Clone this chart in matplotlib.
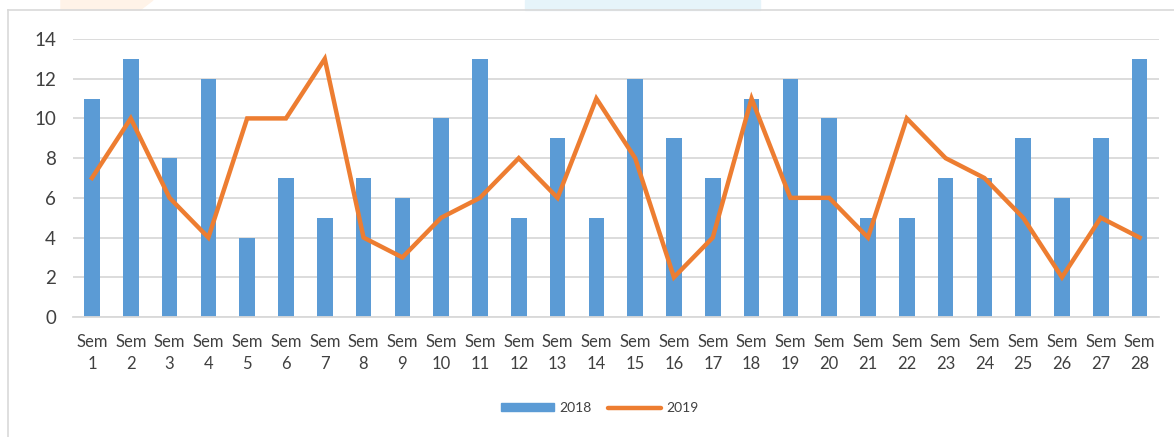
import numpy as np
import matplotlib
matplotlib.use("Agg")
import matplotlib.pyplot as plt
from matplotlib.patches import Rectangle, Polygon
from matplotlib.lines import Line2D

plt.rcParams['font.family'] = ['Lato', 'DejaVu Sans']

# valores
semanas = ['Sem\n%d' % i for i in range(1, 29)]
v2018 = [11, 13, 8, 12, 4, 7, 5, 7, 6, 10, 13, 5, 9, 5, 12, 9, 7, 11, 12, 10, 5, 5, 7, 7, 9, 6, 9, 13]
v2019 = [7, 10, 6, 4, 10, 10, 13, 4, 3, 5, 6, 8, 6, 11, 8, 2, 4, 11, 6, 6, 4, 10, 8, 7, 5, 2, 5, 4]

azul = '#5B9BD5'
naranja = '#ED7D31'

fig = plt.figure(figsize=(11.74, 4.37), dpi=100)

# decoracion de fondo y marco
fig.patches.append(Polygon([[61/1174, 1], [153/1174, 1], [140/1174, 1-10/437], [61/1174, 1-10/437]],
                           closed=True, transform=fig.transFigure, color='#FFF3E8', zorder=0))
fig.patches.append(Rectangle((525/1174, 1-10/437), 235/1174, 10/437, transform=fig.transFigure,
                             color='#E6F4FA', zorder=0))
fig.add_artist(Line2D([8/1174, 8/1174], [0, 1-10/437], transform=fig.transFigure, color='#D9D9D9', lw=1.2))
fig.add_artist(Line2D([8/1174, 1], [1-10/437, 1-10/437], transform=fig.transFigure, color='#D9D9D9', lw=1.2))

ax = fig.add_axes([0.0618, 0.2746, 0.9254, 0.6362])
x = np.arange(len(semanas))
ax.bar(x, v2018, width=0.4, color=azul, label='2018', zorder=2)
ax.plot(x, v2019, color=naranja, lw=3.2, label='2019', zorder=3, solid_joinstyle='miter')

ax.set_xlim(-0.5, len(semanas) - 0.5)
ax.set_ylim(0, 14)
ax.set_yticks(range(0, 15, 2))
ax.set_xticks(x)
ax.set_xticklabels(semanas, fontsize=12, color='#404040', linespacing=1.5)
ax.tick_params(axis='y', labelsize=13.5, labelcolor='#404040', length=0, pad=12)
ax.tick_params(axis='x', length=0, pad=12)
ax.grid(axis='y', color='#D9D9D9', lw=1.3, zorder=0)
for s in ['top', 'right', 'left']:
    ax.spines[s].set_visible(False)
ax.spines['bottom'].set_color('#D9D9D9')
ax.spines['bottom'].set_linewidth(1.3)

handles = [Rectangle((0, 0), 1, 1, color=azul), Line2D([0], [0], color=naranja, lw=3.2, solid_capstyle='round')]
fig.legend(handles, ['2018', '2019'], loc='center', bbox_to_anchor=(600/1174, 1-408/437), ncol=2,
           frameon=False, fontsize=10, handlelength=3.8, handleheight=0.5, columnspacing=1.2,
           handletextpad=0.4, labelcolor='#404040')

fig.savefig('out.png', dpi=100)
